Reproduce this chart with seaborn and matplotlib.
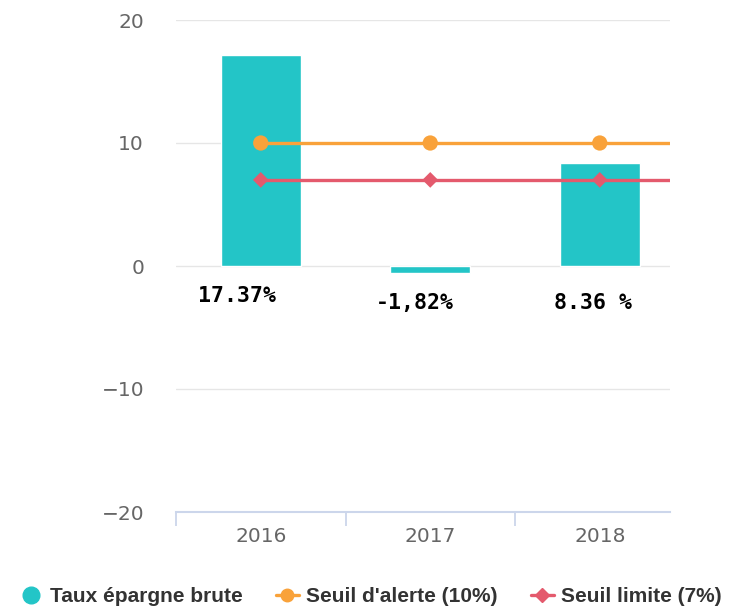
import matplotlib
matplotlib.use("Agg")
import matplotlib.pyplot as plt
from matplotlib.lines import Line2D
import seaborn as sns
import pandas as pd

years = ["2016", "2017", "2018"]
taux_epargne = [17.15, -0.6, 8.36]
seuil_alerte = [10, 10, 10]
seuil_limite = [7, 7, 7]
bar_labels = ["17.37%", "-1,82%", "8.36 %"]
legend_labels = ["Taux épargne brute", "Seuil d'alerte (10%)", "Seuil limite (7%)"]

TEAL = "#23C5C7"
ORANGE = "#F9A23A"
RED = "#E45A6D"

sns.set_theme(style="white")
plt.rcParams["font.family"] = ["DejaVu Sans"]

fig = plt.figure(figsize=(7.34, 6.08), dpi=100)
ax = fig.add_axes([176 / 734, 1 - 512 / 608, (670 - 176) / 734, (512 - 20) / 608])

df = pd.DataFrame({"year": years, "taux": taux_epargne,
                   "alerte": seuil_alerte, "limite": seuil_limite})

sns.barplot(data=df, x="year", y="taux", color=TEAL, width=0.47,
            saturation=1, ax=ax, zorder=2)

xmin, xmax = -0.5, -0.5 + (670 - 176) / 169.5
ax.set_xlim(xmin, xmax)
ax.set_ylim(-20, 20)

x_idx = list(range(len(years)))
for vals, col, mk, ms in [(seuil_alerte, ORANGE, "o", 11), (seuil_limite, RED, "D", 8)]:
    ax.hlines(vals[0], x_idx[0], xmax, color=col, lw=2.4, zorder=3)
    sns.scatterplot(x=x_idx, y=vals, color=col, marker=mk, s=ms ** 2,
                    edgecolor="none", ax=ax, zorder=4, legend=False)

ax.set_yticks([-20, -10, 0, 10, 20])
ax.set_yticklabels(["\u221220", "\u221210", "0", "10", "20"])
ax.yaxis.grid(True, color="#E6E6E6", lw=1)
ax.set_axisbelow(True)
ax.tick_params(axis="y", length=0, pad=23, labelsize=14.5, labelcolor="#666666")
ax.set_xticks(x_idx)
ax.set_xticklabels(years)
ax.set_xticks([i - 0.5 for i in x_idx], minor=True)
ax.tick_params(axis="x", which="major", length=0, pad=11, labelsize=14.5, labelcolor="#666666")
ax.tick_params(axis="x", which="minor", length=10, width=1.3, color="#CCD6EB", bottom=True)
ax.set_xlabel("")
ax.set_ylabel("")
for s in ["left", "right", "top"]:
    ax.spines[s].set_visible(False)
ax.spines["bottom"].set_color("#CCD6EB")
ax.spines["bottom"].set_linewidth(1.5)

label_offsets = [(-0.14, -2.4), (-0.09, -3.0), (-0.04, -3.0)]
for i, (lab, (dx, y)) in enumerate(zip(bar_labels, label_offsets)):
    ax.text(i + dx, y, lab, ha="center", va="center", fontsize=15.5,
            fontweight="bold", family="DejaVu Sans Mono", color="black", zorder=5)

handles = [
    Line2D([], [], color=TEAL, marker="o", linestyle="none", markersize=12),
    Line2D([], [], color=ORANGE, marker="o", lw=2.4, markersize=9),
    Line2D([], [], color=RED, marker="D", lw=2.4, markersize=7),
]
fig.legend(handles, legend_labels, loc="center", bbox_to_anchor=(0.505, 1 - 597 / 608),
           ncol=3, frameon=False, handlelength=1.1, handletextpad=0.35, columnspacing=1.6,
           prop={"weight": "bold", "size": 15, "family": "Liberation Sans"},
           labelcolor="#333333")

fig.savefig("out.png", dpi=100)
